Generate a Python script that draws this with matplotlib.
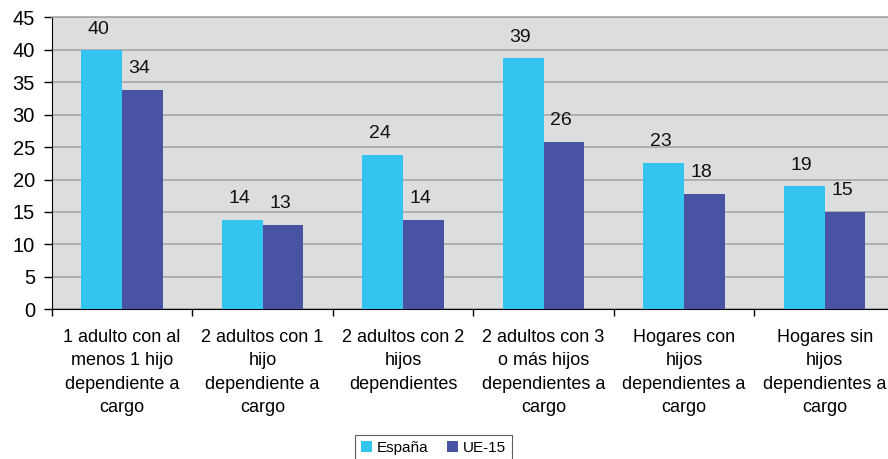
import numpy as np
import matplotlib
matplotlib.use("Agg")
import matplotlib.pyplot as plt

categories = [
    "1 adulto con al\nmenos 1 hijo\ndependiente a\ncargo",
    "2 adultos con 1\nhijo\ndependiente a\ncargo",
    "2 adultos con 2\nhijos\ndependientes",
    "2 adultos con 3\no más hijos\ndependientes a\ncargo",
    "Hogares con\nhijos\ndependientes a\ncargo",
    "Hogares sin\nhijos\ndependientes a\ncargo",
]
espana = [39.9, 13.8, 23.8, 38.7, 22.6, 19.0]
ue15 = [33.8, 13.0, 13.8, 25.8, 17.8, 15.0]
series_names = ["España", "UE-15"]
yticks = [0, 5, 10, 15, 20, 25, 30, 35, 40, 45]

plt.rcParams["font.family"] = ["Liberation Sans", "DejaVu Sans"]

W, H = 888, 459
fig = plt.figure(figsize=(W / 100, H / 100), dpi=100)
left, right, top, bottom = 51.7, 895.0, 17.3, 309.3
ax = fig.add_axes([left / W, 1 - bottom / H, (right - left) / W, (bottom - top) / H])
ax.set_facecolor("#DCDDDF")

x = np.arange(len(categories))
bw = 0.29
c_es = "#33C5F0"
c_ue = "#4853A3"
b1 = ax.bar(x - bw / 2, espana, bw, color=c_es, label=series_names[0], zorder=3)
b2 = ax.bar(x + bw / 2, ue15, bw, color=c_ue, label=series_names[1], zorder=3)

for bars, vals in ((b1, espana), (b2, ue15)):
    for rect, v in zip(bars, vals):
        ax.annotate(f"{v:.0f}", (rect.get_x() + rect.get_width() / 2 - 0.02, v),
                    xytext=(0, 9), textcoords="offset points",
                    ha="center", va="bottom", fontsize=14, color="#111111")

ax.set_xlim(-0.5, len(categories) - 0.5)
ax.set_ylim(0, 45)
ax.set_yticks(yticks)
ax.yaxis.grid(True, color="#A6A6A6", linewidth=1.2, zorder=0)
ax.set_axisbelow(True)

ax.set_xticks(np.arange(len(categories) + 1) - 0.5)
ax.set_xticklabels([])
ax.set_xticks(x, minor=True)
ax.set_xticklabels(categories, minor=True, fontsize=13, linespacing=1.5)
ax.tick_params(axis="x", which="minor", length=0, pad=14)
ax.tick_params(axis="x", which="major", length=5, width=1, color="black")
ax.tick_params(axis="y", length=6, width=1, pad=6, labelsize=14.5)

ax.spines["left"].set_color("black")
ax.spines["bottom"].set_color("black")
ax.spines["top"].set_color("#A6A6A6")
ax.spines["top"].set_linewidth(1.2)
ax.spines["right"].set_visible(False)

leg = fig.legend(handles=[b1, b2], loc="upper center",
                 bbox_to_anchor=(433.5 / W, 1 - 435 / H), ncol=2,
                 fontsize=11, frameon=True, fancybox=False, borderaxespad=0,
                 handlelength=0.75, handleheight=0.75, handletextpad=0.3,
                 columnspacing=1.2, borderpad=0.4)
leg.get_frame().set_edgecolor("#333333")
leg.get_frame().set_linewidth(0.8)

fig.savefig("out.png", dpi=100)
